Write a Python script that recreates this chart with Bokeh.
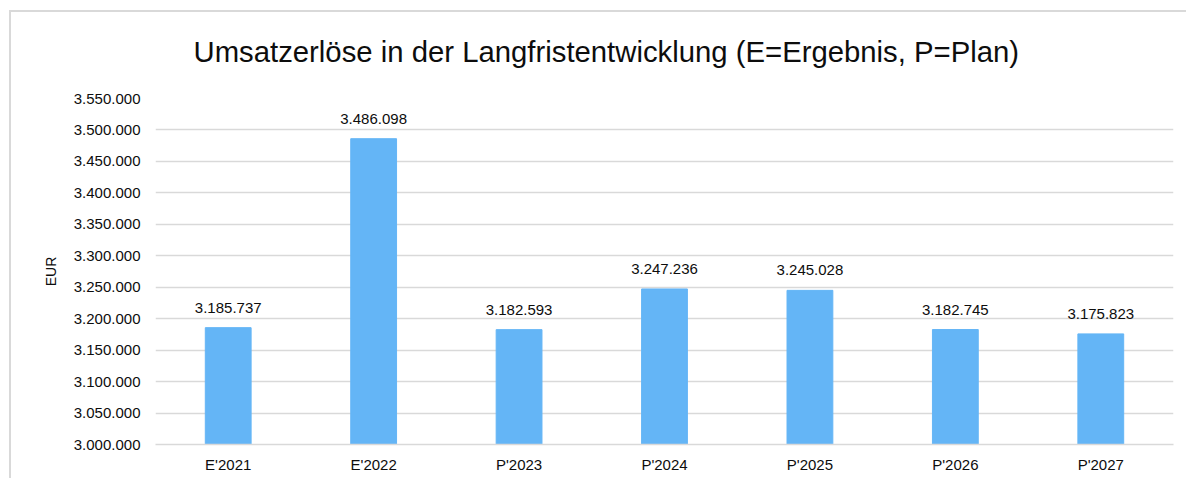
from bokeh.plotting import figure
from bokeh.models import ColumnDataSource, FactorRange, Range1d, FixedTicker, CustomJSTickFormatter, LabelSet
from bokeh.core.properties import value
from bokeh.embed import file_html
from bokeh.resources import INLINE

categories = ["E'2021", "E'2022", "P'2023", "P'2024", "P'2025", "P'2026", "P'2027"]
values = [3185737, 3486098, 3182593, 3247236, 3245028, 3182745, 3175823]
y_ticks = [3000000, 3050000, 3100000, 3150000, 3200000, 3250000, 3300000,
           3350000, 3400000, 3450000, 3500000, 3550000]

title_text = "Umsatzerlöse in der Langfristentwicklung (E=Ergebnis, P=Plan)"
y_label = "EUR"


def de_format(v):
    return f"{int(v):,}".replace(",", ".")


labels = [de_format(v) for v in values]
source = ColumnDataSource(dict(cat=categories, val=values, lab=labels))

FONT = "Liberation Sans"
TXT = "#0d0d0d"

p = figure(
    x_range=FactorRange(factors=categories, range_padding=0),
    y_range=Range1d(3000000, 3550000),
    width=1186, height=478,
    output_backend="svg", toolbar_location=None,
    min_border_left=155, min_border_right=13, min_border_top=98, min_border_bottom=34,
)
# light grey chart-area border (top and left edges), drawn behind the transparent border area
p.styles = {"box-shadow": "inset 0 10px 0 0 #ffffff, inset 9px 0 0 0 #ffffff, "
                          "inset 0 12px 0 0 #d9d9d9, inset 11px 0 0 0 #d9d9d9",
            "background-color": "#ffffff"}

p.vbar(x="cat", top="val", bottom=3000000, width=0.315, source=source,
       fill_color="#64b5f6", line_color="#64b5f6", line_width=1)

p.add_layout(LabelSet(x="cat", y="val", text="lab", source=source,
                      text_align="center", text_baseline="alphabetic", y_offset=15,
                      text_font=value(FONT), text_font_size="15px", text_color=TXT))

p.title.text = title_text
p.title.text_font = FONT
p.title.text_font_size = "29.3px"
p.title.text_font_style = "normal"
p.title.text_color = TXT
p.title.align = "left"
p.title.vertical_align = "bottom"
p.title.offset = 38
p.title.standoff = 62

p.yaxis.ticker = FixedTicker(ticks=y_ticks)
p.yaxis.formatter = CustomJSTickFormatter(
    code='return Math.round(tick).toString().replace(/\\B(?=(\\d{3})+(?!\\d))/g, ".");')
p.yaxis.axis_label = y_label
p.yaxis.axis_label_text_font = FONT
p.yaxis.axis_label_text_font_size = "14px"
p.yaxis.axis_label_text_font_style = "normal"
p.yaxis.axis_label_text_color = TXT
p.yaxis.axis_label_standoff = 12
p.yaxis.axis_line_color = None
p.yaxis.major_label_standoff = 15

p.xaxis.axis_line_color = "#d9d9d9"
p.xaxis.axis_line_width = 1.5
p.xaxis.major_label_standoff = 11

for ax in (p.xaxis, p.yaxis):
    ax.major_tick_line_color = None
    ax.minor_tick_line_color = None
    ax.major_tick_out = 0
    ax.major_tick_in = 0
    ax.minor_tick_out = 0
    ax.minor_tick_in = 0
    ax.major_label_text_font = FONT
    ax.major_label_text_font_size = "15px"
    ax.major_label_text_color = TXT

p.xgrid.grid_line_color = None
p.ygrid.grid_line_color = "#d9d9d9"
p.ygrid.grid_line_width = 1.5
p.outline_line_color = None
p.background_fill_color = "white"
p.border_fill_alpha = 0

open("out.html", "w").write(file_html(p, INLINE))
